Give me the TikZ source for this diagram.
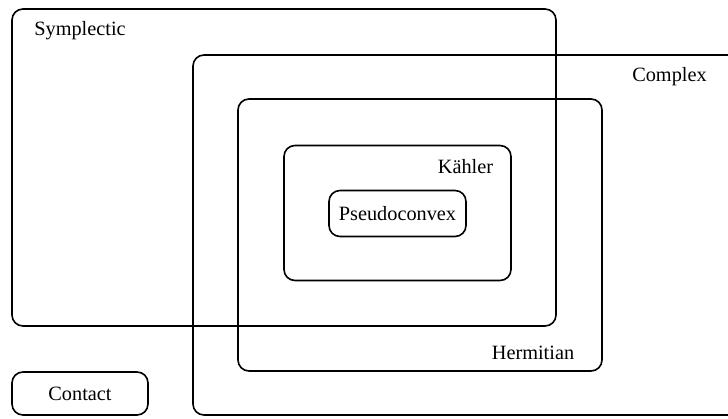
\documentclass[tikz,border=0pt]{standalone}
\usepackage{fontspec}
\setmainfont{Liberation Serif}
\begin{document}
\begin{tikzpicture}[x=1pt,y=-1pt,
  region/.style={draw=black, line width=1.6pt, rounded corners=11pt, inner sep=0pt},
  lbl/.style={inner sep=0pt, font=\fontsize{20.3}{23}\selectfont}]
\useasboundingbox (0,0) rectangle (728,418);
\clip (0,0) rectangle (728,418);
% regions
\node[region, minimum width=544pt, minimum height=317pt] (symp) at (284,167.5) {};
\node[region, minimum width=580pt, minimum height=360pt] (cplx) at (483,235) {};
\node[region, minimum width=364pt, minimum height=272pt] (herm) at (420,235) {};
\node[region, minimum width=227pt, minimum height=135pt] (kahl) at (397.5,213) {};
\node[region, minimum width=137pt, minimum height=46pt] (pseudo) at (397.5,213.5) {};
\node[region, minimum width=136pt, minimum height=43pt] (cont) at (80,393.5) {};
% labels
\node[lbl] (tsymp) at (80,31) {Symplectic};
\node[lbl] (tcplx) at (669.5,77) {Complex};
\node[lbl] (therm) at (533,353) {Hermitian};
\node[lbl] (tkahl) at (465.5,167) {Kähler};
\node[lbl] at (pseudo) {Pseudoconvex};
\node[lbl] at (cont) {Contact};
\end{tikzpicture}
\end{document}
